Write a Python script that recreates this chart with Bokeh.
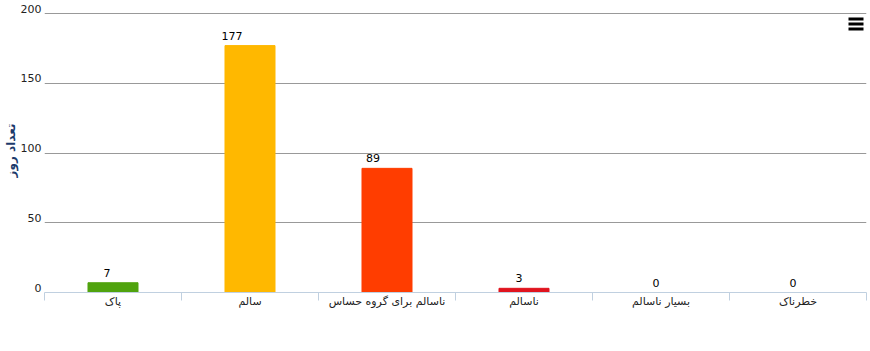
from bokeh.plotting import figure
from bokeh.models import FixedTicker, Range1d, ColumnDataSource, BoxAnnotation
from bokeh.embed import file_html
from bokeh.resources import INLINE
from bokeh.core.properties import value

categories = ["پاک", "سالم", "ناسالم برای گروه حساس", "ناسالم", "بسیار ناسالم", "خطرناک"]
counts = [7, 177, 89, 3, 0, 0]
colors = ["#50A30E", "#FFB800", "#FF3D00", "#E0141E", "#8F3F97", "#7E0023"]
label_dx = [-6, -18, -14, -5, -5, -5]
y_ticks = [0, 50, 100, 150, 200]
y_title = "تعداد روز"

LABEL_LIFT = 3.5  # tick labels sit a few px above their grid lines

xs = [i + 0.5 for i in range(len(categories))]
src = ColumnDataSource(dict(x=xs, top=counts, color=colors, label=[str(c) for c in counts], dx=label_dx))

p = figure(width=870, height=351, output_backend="svg", toolbar_location=None,
           x_range=Range1d(0, len(categories)), y_range=Range1d(0, 203.6),
           min_border_left=10, min_border_right=4, min_border_top=8, min_border_bottom=59)
p.outline_line_color = None
p.background_fill_color = "white"

p.vbar(x="x", top="top", width=0.365, color="color", source=src)
p.text(x="x", y="top", text="label", source=src, text_align="center", text_baseline="bottom",
       x_offset="dx", y_offset=-6, text_font=value("DejaVu Sans"), text_font_size="11px", text_color="#000000")

# x axis
xa = p.xaxis[0]
xa.ticker = FixedTicker(ticks=xs, minor_ticks=list(range(len(categories) + 1)))
xa.major_label_overrides = {x: c for x, c in zip(xs, categories)}
xa.major_tick_line_color = None
xa.major_tick_out = 0
xa.major_tick_in = 0
xa.minor_tick_in = 0
xa.minor_tick_out = 8
xa.minor_tick_line_color = "#C0D0E0"
xa.axis_line_color = "#C0D0E0"
xa.major_label_text_font = "DejaVu Sans"
xa.major_label_text_font_size = "11px"
xa.major_label_text_color = "#222222"
xa.major_label_standoff = -6

# y axis
ya = p.yaxis[0]
lifted = [t + LABEL_LIFT for t in y_ticks]
ya.ticker = FixedTicker(ticks=lifted)
ya.major_label_overrides = {v: str(t) for v, t in zip(lifted, y_ticks)}
ya.axis_line_color = None
ya.major_tick_line_color = None
ya.major_tick_out = 0
ya.major_tick_in = 0
ya.minor_tick_line_color = None
ya.minor_tick_out = 0
ya.major_label_text_font = "DejaVu Sans"
ya.major_label_text_font_size = "11px"
ya.major_label_text_color = "#222222"
ya.major_label_standoff = 3
ya.axis_label = y_title
ya.axis_label_text_font = "DejaVu Sans"
ya.axis_label_text_font_size = "12px"
ya.axis_label_text_font_style = "bold"
ya.axis_label_text_color = "#1C3A6B"
ya.axis_label_standoff = 0

p.xgrid.grid_line_color = None
p.ygrid.ticker = FixedTicker(ticks=y_ticks)
p.ygrid.grid_line_color = "#999999"
p.ygrid.grid_line_width = 1

# menu icon
for top in [17, 22, 27]:
    p.add_layout(BoxAnnotation(left=848, right=863, top=top, bottom=top + 3,
                               left_units="canvas", right_units="canvas",
                               top_units="canvas", bottom_units="canvas",
                               fill_color="black", fill_alpha=1, line_color=None))

open("out.html", "w").write(file_html(p, INLINE))
